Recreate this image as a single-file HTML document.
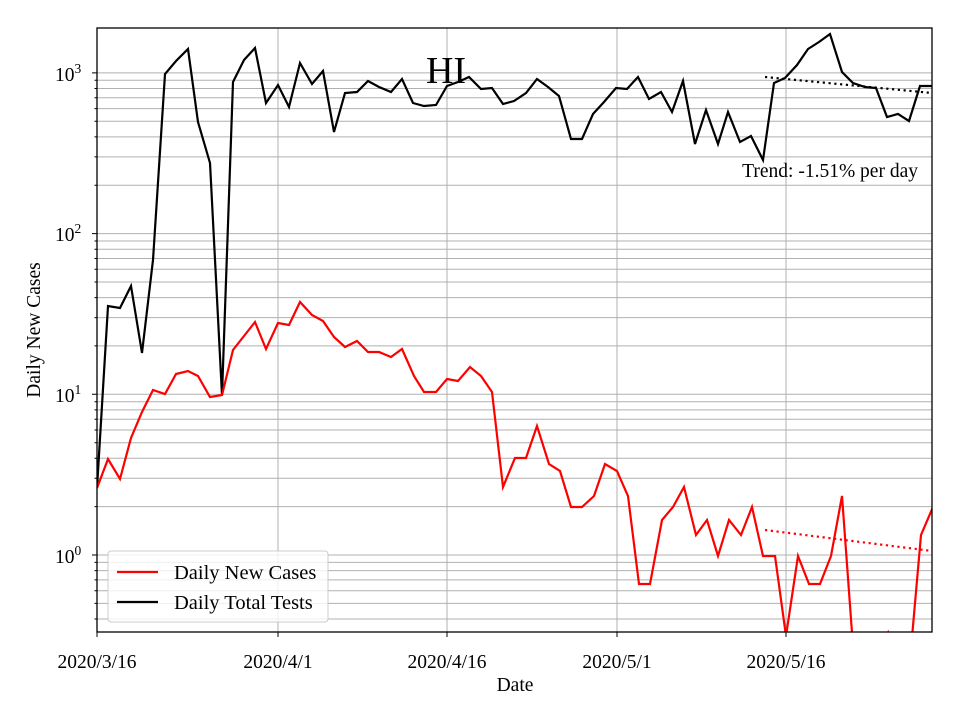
<!DOCTYPE html>
<html><head><meta charset="utf-8"><style>
html,body{margin:0;padding:0;background:#fff;}
svg{display:block;font-family:"Liberation Serif",serif;}
</style></head><body>
<svg width="960" height="720" viewBox="0 0 960 720" xmlns="http://www.w3.org/2000/svg">
<defs><clipPath id="c"><rect x="97" y="28" width="835" height="604"/></clipPath></defs>
<g stroke="#b0b0b0" stroke-width="1" fill="none">
<path d="M97 619H932M97 603.4H932M97 590.7H932M97 579.9H932M97 570.6H932M97 562.4H932M97 555H932
M97 506.6H932M97 478.3H932M97 458.3H932M97 442.7H932M97 430H932M97 419.2H932M97 409.9H932M97 401.7H932M97 394.3H932
M97 345.9H932M97 317.6H932M97 297.6H932M97 282H932M97 269.3H932M97 258.5H932M97 249.2H932M97 241H932M97 233.6H932
M97 185.2H932M97 156.9H932M97 136.9H932M97 121.3H932M97 108.6H932M97 97.8H932M97 88.5H932M97 80.3H932M97 72.9H932
M278 28V632M447 28V632M617 28V632M786 28V632"/>
</g>
<g clip-path="url(#c)" fill="none" stroke-width="2.2" stroke-linejoin="miter">
<polyline stroke="#000" points="97,488 108,306 120,308 131,286 142,353 153,260 165,74 176,61 188,49 198,122 210,163 222,395 233,82 244,60 255,48 266,103 278,85 289,107 300,63 312,84 323,71 334,132 345,93 357,92 368,81 379,87 391,92 402,79 413,103 424,106 436,105 447,86 458,82 469,77 481,89 492,88 503,104 514,101 526,93 537,79 548,87 559,96 571,139 582,139 593,114 604,102 616,88 627,89 638,77 649,99 661,92 672,112 683,81 695,144 706,110 718,144 728,112 740,142 751,136 763,160 774,83 785,78 797,65 808,49 819,42 830,34 842,72 853,83 865,87 876,88 887,117 898,114 909,121 920,86 932,86"/>
<polyline stroke="#f00" points="97,488 108,459 120,479 131,438 142,412 153,390 165,394 176,374 188,371 198,376 210,397 222,395 233,350 244,336 255,322 266,349 278,323 289,325 300,302 312,315 323,321 334,337 345,347 357,341 368,352 379,352 391,357 402,349 414,376 424,392 436,392 447,379 458,381 470,367 481,376 492,392 503,487 515,458 526,458 537,426 549,464 560,471 571,507 582,507 594,496 605,464 617,471 628,496 639,584 650,584 662,520 673,507 684,487 696,535 707,520 718,556 729,520 741,535 752,507 763,556 775,556 786,636 798,556 809,584 820,584 831,556 842,496 854,660 865,680 876,660 888,633 899,680 910,660 921,535 933,507"/>
<line x1="765" y1="77" x2="932" y2="93" stroke="#000" stroke-dasharray="2.2,3.6"/>
<line x1="765" y1="530" x2="932" y2="551" stroke="#f00" stroke-dasharray="2.2,3.6"/>
</g>
<rect x="97" y="28" width="835" height="604" fill="none" stroke="#000" stroke-width="1.3"/>
<g stroke="#000" stroke-width="1">
<path d="M97 632v5M278 632v5M447 632v5M617 632v5M786 632v5M97 555h-5M97 394.3h-5M97 233.6h-5M97 72.9h-5"/>
<path d="M97 619h-2.5M97 603.4h-2.5M97 590.7h-2.5M97 579.9h-2.5M97 570.6h-2.5M97 562.4h-2.5M97 506.6h-2.5M97 478.3h-2.5M97 458.3h-2.5M97 442.7h-2.5M97 430h-2.5M97 419.2h-2.5M97 409.9h-2.5M97 401.7h-2.5M97 345.9h-2.5M97 317.6h-2.5M97 297.6h-2.5M97 282h-2.5M97 269.3h-2.5M97 258.5h-2.5M97 249.2h-2.5M97 241h-2.5M97 185.2h-2.5M97 156.9h-2.5M97 136.9h-2.5M97 121.3h-2.5M97 108.6h-2.5M97 97.8h-2.5M97 88.5h-2.5M97 80.3h-2.5"/>
</g>
<g font-size="19.5" fill="#000">
<text x="97" y="668" text-anchor="middle">2020/3/16</text>
<text x="278" y="668" text-anchor="middle">2020/4/1</text>
<text x="447" y="668" text-anchor="middle">2020/4/16</text>
<text x="617" y="668" text-anchor="middle">2020/5/1</text>
<text x="786" y="668" text-anchor="middle">2020/5/16</text>
<text x="515" y="691" text-anchor="middle">Date</text>
<text x="40" y="330" text-anchor="middle" transform="rotate(-90 40 330)">Daily New Cases</text>
<text x="55" y="563">10<tspan font-size="13.5" dy="-8">0</tspan></text>
<text x="55" y="402">10<tspan font-size="13.5" dy="-8">1</tspan></text>
<text x="55" y="241">10<tspan font-size="13.5" dy="-8">2</tspan></text>
<text x="55" y="81">10<tspan font-size="13.5" dy="-8">3</tspan></text>
<text x="918" y="177" text-anchor="end">Trend: -1.51% per day</text>
</g>
<text x="446" y="83" font-size="38" text-anchor="middle">HI</text>
<rect x="108" y="551" width="220" height="71" rx="3" fill="#fff" fill-opacity="0.8" stroke="#ccc"/>
<line x1="117" y1="572" x2="158" y2="572" stroke="#f00" stroke-width="2.2"/>
<line x1="117" y1="602" x2="158" y2="602" stroke="#000" stroke-width="2.2"/>
<text x="174" y="579" font-size="20.5">Daily New Cases</text>
<text x="174" y="609" font-size="20.5">Daily Total Tests</text>
</svg>
</body></html>
